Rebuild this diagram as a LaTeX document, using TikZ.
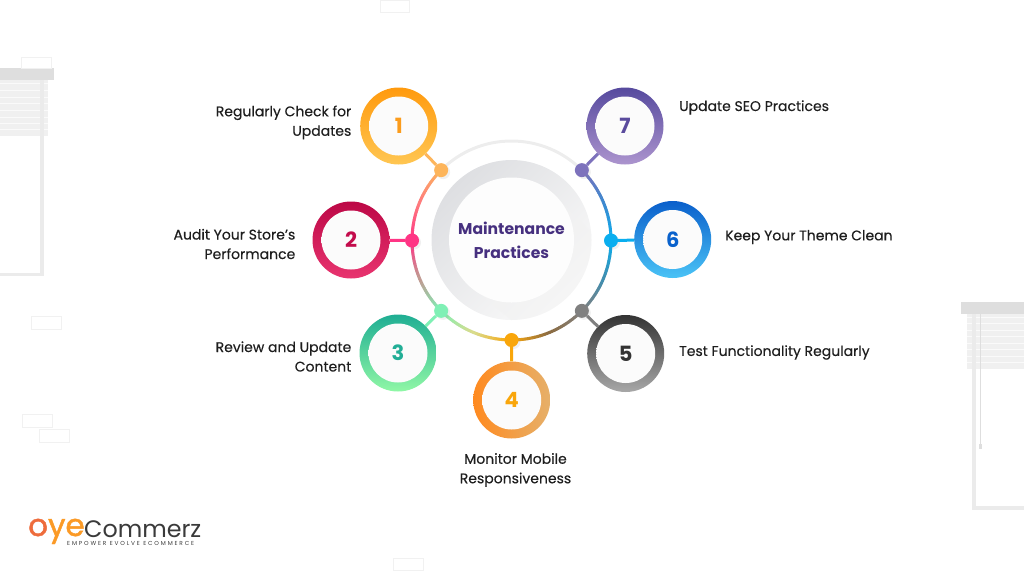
\documentclass[tikz,border=0pt]{standalone}
\usepackage{fontspec}
\setmainfont{Poppins}
\newfontfamily\labelfont[FakeBold=0.3]{Poppins}
\newfontfamily\oyefont[FakeBold=1.5]{Poppins}
\newfontfamily\tagfont[LetterSpace=32]{Poppins}
\usetikzlibrary{shadows}

\definecolor{blindbar}{HTML}{DEDEDE}
\definecolor{blindslat}{HTML}{F0F0F0}
\definecolor{slatgap}{HTML}{FAFAFA}
\definecolor{frameline}{HTML}{EBEBEB}
\definecolor{ghostbox}{HTML}{F1F1F1}
\definecolor{titlecol}{HTML}{46307F}
\definecolor{labelcol}{HTML}{1E1E1E}
\definecolor{dotone}{HTML}{FDB55B}
\definecolor{dottwo}{HTML}{FF3585}
\definecolor{dotthree}{HTML}{7FF0B5}
\definecolor{dotfour}{HTML}{F9A60B}
\definecolor{dotfive}{HTML}{808080}
\definecolor{dotsix}{HTML}{0AAEEF}
\definecolor{dotseven}{HTML}{7D72BC}
\definecolor{midone}{HTML}{FF7C7C}
\definecolor{midtwo}{HTML}{C29A92}
\definecolor{midthree}{HTML}{D9DC8C}
\definecolor{midfour}{HTML}{8C6C42}
\definecolor{midfive}{HTML}{3F8EB0}
\definecolor{midsix}{HTML}{3E88CF}
\definecolor{oneA}{HTML}{FF9A0E}
\definecolor{oneB}{HTML}{FFC652}
\definecolor{twoA}{HTML}{BC0846}
\definecolor{twoB}{HTML}{E8346F}
\definecolor{threeA}{HTML}{1FAE93}
\definecolor{threeB}{HTML}{90F7A6}
\definecolor{fourA}{HTML}{FF8A1F}
\definecolor{fourB}{HTML}{F9A60B}
\definecolor{fourC}{HTML}{E6B06A}
\definecolor{fiveA}{HTML}{333333}
\definecolor{fiveB}{HTML}{A8A8A8}
\definecolor{sixA}{HTML}{0A5FCB}
\definecolor{sixB}{HTML}{4AC3F6}
\definecolor{sevenA}{HTML}{564A9E}
\definecolor{sevenB}{HTML}{AC94CE}
\definecolor{numone}{HTML}{FB9C1C}
\definecolor{numtwo}{HTML}{C30C4C}
\definecolor{numthree}{HTML}{22AE96}
\definecolor{numfour}{HTML}{F9A60B}
\definecolor{numfive}{HTML}{333333}
\definecolor{numsix}{HTML}{0A62CC}
\definecolor{numseven}{HTML}{5A4B9D}
\definecolor{oyeA}{HTML}{EE6C3C}
\definecolor{oyeB}{HTML}{FB9A26}
\definecolor{logotext}{HTML}{3A3A3A}
\definecolor{rimA}{HTML}{DEDFE2}
\definecolor{rimB}{HTML}{FAFAFA}

\pgfdeclareradialshading{facefill}{\pgfpoint{0bp}{0bp}}{color(0bp)=(white!98.5!black); color(42bp)=(white!98.5!black); color(50bp)=(white!92!black)}
\pgfdeclareradialshading{hubfill}{\pgfpoint{0bp}{0bp}}{color(0bp)=(white!99.2!black); color(46bp)=(white!99.2!black); color(50bp)=(white!96!black)}

\tikzset{
  badge/.style={circle,minimum size=77pt,inner sep=0pt,shading angle=45},
  face/.style={circle,minimum size=59pt,inner sep=0pt,shading=facefill,font=\bfseries\fontsize{21}{21}\selectfont},
  dot/.style={circle,minimum size=14pt,inner sep=0pt,drop shadow={opacity=.12,shadow xshift=2pt,shadow yshift=-2pt}},
  link/.style={line width=3pt},
  steptext/.style={inner sep=0pt,font=\labelfont\fontsize{14}{19.5}\selectfont,text=labelcol},
  ghost/.style={draw=ghostbox,line width=1pt},
}

\begin{document}
\begin{tikzpicture}[x=1pt,y=-1pt]
\useasboundingbox (0,0) rectangle (1024,576);

% Left blind
\fill[blindslat] (0,80) rectangle (48,136);
\foreach \y in {83,90,97,103,110,117,123,129}
  \fill[slatgap] (0,\y) rectangle (48,\y+1);
\fill[frameline] (40,80) rectangle (44,276);
\fill[frameline] (0,273) rectangle (44,276);
\fill[blindbar] (0,68) rectangle (54,80);
\draw[ghost] (21,57.5) rectangle (51,68);

% Right blind
\fill[blindslat] (967,314) rectangle (1024,369);
\foreach \y in {317,323,330,336,343,349,356,362}
  \fill[slatgap] (967,\y) rectangle (1024,\y+1);
\fill[frameline] (972,314) rectangle (976,510);
\fill[frameline] (972,506) rectangle (1024,510);
\fill[blindbar] (961,302) rectangle (1024,314);
\draw[blindbar,line width=.7pt] (980.5,314) -- (980.5,445);
\fill[blindbar] (979,444) rectangle (982,449);

% Small outlines
\draw[ghost] (380,0.5) rectangle (409,12);
\draw[ghost] (31,316.5) rectangle (61,329);
\draw[ghost] (22,414.5) rectangle (52,427);
\draw[ghost] (39,429.5) rectangle (69,442);
\draw[ghost] (393,558.5) rectangle (423,570);

% Centre disc
\node[circle,minimum size=160pt,inner sep=0pt,top color=rimA,bottom color=rimB,shading angle=45] (rim) at (511.5,240) {};
\begin{scope}
\clip (511.5,240) circle (80);
\fill[black!5,opacity=.5] (555.3,196.2) -- (640,281) -- (560,361) -- (467.7,283.8) -- cycle;
\end{scope}
\node[circle,minimum size=125pt,inner sep=0pt,shading=hubfill,align=center,text=titlecol,font=\bfseries\fontsize{15.6}{24}\selectfont] (centre) at (511.5,240) {Maintenance\\Practices};

\begin{scope}[shift={(511.5,240.5)}]
% Ring
\draw[black!7,line width=3pt] (0,0) circle (99.5);
\foreach \s/\ca/\cb in {225/dotone/midone,202.5/midone/dottwo,180/dottwo/midtwo,157.5/midtwo/dotthree,135/dotthree/midthree,112.5/midthree/dotfour,90/dotfour/midfour,67.5/midfour/dotfive,45/dotfive/midfive,22.5/midfive/dotsix,0/dotsix/midsix,-22.5/midsix/dotseven}
  \foreach \t in {0,...,14}
    \draw[\cb!\the\numexpr\t*100/14\relax!\ca,line width=3pt] ({\s-\t*22.5/15}:99.5) -- ({\s-(\t+1.15)*22.5/15}:99.5);

% Dots on the ring
\node[dot,fill=dotone] (dota) at (225:99.5) {};
\node[dot,fill=dottwo] (dotb) at (180:99.5) {};
\node[dot,fill=dotthree] (dotc) at (135:99.5) {};
\node[dot,fill=dotfour] (dotd) at (90:99.5) {};
\node[dot,fill=dotfive] (dote) at (45:99.5) {};
\node[dot,fill=dotsix] (dotf) at (0:99.5) {};
\node[dot,fill=dotseven] (dotg) at (-45:99.5) {};
\end{scope}

% Numbered badges
\node[badge,top color=oneA,bottom color=oneB] (ringa) at (398.7,126) {};
\node[badge,top color=twoA,bottom color=twoB] (ringb) at (351,240) {};
\node[badge,top color=threeA,bottom color=threeB] (ringc) at (398,353) {};
\node[badge,top color=fourA,middle color=fourB,bottom color=fourC,shading angle=90] (ringd) at (511.7,400) {};
\node[badge,top color=fiveA,bottom color=fiveB] (ringe) at (625.7,353.5) {};
\node[badge,top color=sixA,bottom color=sixB] (ringf) at (672.7,239.5) {};
\node[badge,top color=sevenA,bottom color=sevenB] (ringg) at (625,126) {};

\node[face,text=numone] (numa) at (ringa) {1};
\node[face,text=numtwo] (numb) at (ringb) {2};
\node[face,text=numthree] (numc) at (ringc) {3};
\node[face,text=numfour] (numd) at (ringd) {4};
\node[face,text=numfive] (nume) at (ringe) {5};
\node[face,text=numsix] (numf) at (ringf) {6};
\node[face,text=numseven] (numg) at (ringg) {7};

% Links from badges to dots
\draw[link,dotone] (ringa) -- (dota);
\draw[link,dottwo] (ringb) -- (dotb);
\draw[link,dotthree] (ringc) -- (dotc);
\draw[link,dotfour] (ringd) -- (dotd);
\draw[link,dotfive] (ringe) -- (dote);
\draw[link,dotsix] (ringf) -- (dotf);
\draw[link,dotseven] (ringg) -- (dotg);

% Labels
\node[steptext,anchor=east,align=right] (texta) at (351.5,122.5) {Regularly Check for\\Updates};
\node[steptext,anchor=east,align=right] (textb) at (295.5,244) {Audit Your Store’s\\Performance};
\node[steptext,anchor=east,align=right] (textc) at (351.5,356.5) {Review and Update\\Content};
\node[steptext,align=center] (textd) at (515.5,470) {Monitor Mobile\\Responsiveness};
\node[steptext,anchor=west] (texte) at (679,352.5) {Test Functionality Regularly};
\node[steptext,anchor=west] (textf) at (725,237) {Keep Your Theme Clean};
\node[steptext,anchor=west] (textg) at (679,107.5) {Update SEO Practices};

% Logo
\node[anchor=base west,inner sep=0pt,font=\oyefont\fontsize{31}{31}\selectfont] (logoa) at (28,536) {\textcolor{oyeA}{o}\textcolor{oyeB}{ye}};
\node[anchor=base west,inner sep=0pt,text=logotext,font=\fontsize{23.8}{24}\selectfont] (logob) at (84,537) {Commerz};
\node[anchor=base west,inner sep=0pt,text=logotext,font=\tagfont\fontsize{5.8}{6}\selectfont] (logoc) at (67,545) {EMPOWER EVOLVE ECOMMERCE};
\end{tikzpicture}
\end{document}
